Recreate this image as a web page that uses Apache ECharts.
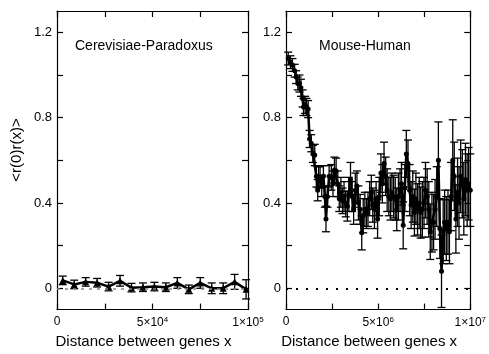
<!DOCTYPE html>
<html>
<head>
<meta charset="utf-8">
<script src="https://cdn.jsdelivr.net/npm/echarts@6/dist/echarts.min.js"></script>
<style>html,body{margin:0;padding:0;background:#fff}#c{width:489px;height:354px}</style>
</head>
<body>
<div id="c"></div>
<script>
// ---- Data ----
var leftTitle = 'Cerevisiae-Paradoxus';
var rightTitle = 'Mouse-Human';
var yAxisTitle = '<r(0)r(x)>';
var xAxisTitle = 'Distance between genes x';

var yTickLabels = [0, 0.4, 0.8, 1.2];
var yMinorTicks = [0, 0.2, 0.4, 0.6, 0.8, 1.0, 1.2];
var leftXTicks = [0, 50000, 100000];
var leftXTickLabels = ['0', '5×10^4', '1×10^5'];
var leftXMinor = [0, 25000, 50000, 75000, 100000];
var rightXTicks = [0, 5e6, 1e7];
var rightXTickLabels = ['0', '5×10^6', '1×10^7'];
var rightXMinor = [0, 2.5e6, 5e6, 7.5e6, 1e7];

// Cerevisiae-Paradoxus
var leftX = [3000, 9000, 15000, 21000, 27000, 33000, 39000, 45000, 51000, 57000, 63000, 69000, 75000, 81000, 87000, 93000, 99000];
var leftY = [0.037, 0.018, 0.03, 0.026, 0.008, 0.035, 0.003, 0.005, 0.008, 0.005, 0.025, -0.005, 0.025, 0, 0, 0.03, -0.005];
var leftErr = [0.02, 0.02, 0.02, 0.02, 0.02, 0.025, 0.02, 0.02, 0.02, 0.02, 0.025, 0.02, 0.025, 0.025, 0.025, 0.035, 0.045];

// Mouse-Human (x in units of 10^6)
var rightXM = [0.12, 0.24, 0.35, 0.47, 0.55, 0.64, 0.73, 0.81, 0.90, 0.95,
  1.04, 1.11, 1.20, 1.28, 1.37, 1.46, 1.56, 1.65, 1.72, 1.77,
  1.85, 1.94, 2.03, 2.11, 2.17, 2.25, 2.34, 2.46, 2.55, 2.63, 2.72,
  2.81, 2.89, 2.98, 3.07, 3.15, 3.24, 3.33, 3.41, 3.50, 3.59,
  3.67, 3.76, 3.85, 3.93, 4.02, 4.11, 4.19, 4.28, 4.37, 4.45,
  4.54, 4.63, 4.71, 4.80, 4.89, 4.97, 5.06, 5.15, 5.23, 5.32,
  5.41, 5.49, 5.58, 5.67, 5.75, 5.84, 5.93, 6.01, 6.10, 6.19,
  6.27, 6.36, 6.45, 6.53, 6.62, 6.71, 6.79, 6.88, 6.97, 7.05,
  7.14, 7.23, 7.31, 7.40, 7.49, 7.57, 7.66, 7.75, 7.83, 7.92,
  8.01, 8.09, 8.18, 8.27, 8.35, 8.44, 8.53, 8.61, 8.70, 8.79,
  8.87, 8.96, 9.05, 9.13, 9.22, 9.31, 9.39, 9.48, 9.57, 9.65,
  9.74, 9.83, 9.91, 10.0];
var rightY = [1.077, 1.06, 1.047, 1.02, 0.99, 0.96, 0.96, 0.94, 0.89, 0.85,
  0.86, 0.85, 0.84, 0.70, 0.68, 0.63, 0.625, 0.525, 0.46, 0.52,
  0.52, 0.48, 0.525, 0.43, 0.325, 0.43, 0.525, 0.52, 0.49, 0.555, 0.55,
  0.49, 0.42, 0.45, 0.41, 0.43, 0.395, 0.385, 0.44, 0.51, 0.43,
  0.37, 0.46, 0.48, 0.40, 0.37, 0.26, 0.34, 0.37, 0.35, 0.37,
  0.42, 0.45, 0.39, 0.37, 0.42, 0.325, 0.43, 0.54, 0.49, 0.585,
  0.525, 0.46, 0.43, 0.42, 0.45, 0.43, 0.42, 0.37, 0.43, 0.46,
  0.49, 0.295, 0.47, 0.63, 0.585, 0.46, 0.39, 0.43, 0.355, 0.42,
  0.37, 0.40, 0.355, 0.37, 0.40, 0.46, 0.43, 0.37, 0.265, 0.31,
  0.31, 0.37, 0.43, 0.60, 0.28, 0.08, 0.265, 0.31, 0.28, 0.31,
  0.265, 0.43, 0.60, 0.525, 0.325, 0.45, 0.40, 0.525, 0.49, 0.42,
  0.51, 0.46, 0.49, 0.46];
var rightErr = [0.03, 0.03, 0.03, 0.03, 0.03, 0.03, 0.04, 0.04, 0.04, 0.04,
  0.04, 0.04, 0.04, 0.04, 0.04, 0.04, 0.05, 0.05, 0.05, 0.05,
  0.05, 0.05, 0.05, 0.05, 0.06, 0.05, 0.05, 0.06, 0.06, 0.06, 0.06,
  0.06, 0.06, 0.07, 0.06, 0.07, 0.06, 0.07, 0.08, 0.08, 0.07,
  0.07, 0.08, 0.07, 0.08, 0.07, 0.08, 0.08, 0.08, 0.07, 0.08,
  0.08, 0.08, 0.08, 0.09, 0.08, 0.09, 0.09, 0.09, 0.09, 0.10,
  0.09, 0.10, 0.09, 0.10, 0.09, 0.10, 0.10, 0.10, 0.11, 0.10,
  0.10, 0.11, 0.11, 0.11, 0.11, 0.12, 0.11, 0.12, 0.11, 0.12,
  0.12, 0.12, 0.12, 0.13, 0.12, 0.13, 0.13, 0.13, 0.13, 0.14,
  0.13, 0.14, 0.14, 0.18, 0.14, 0.17, 0.15, 0.15, 0.15, 0.15,
  0.15, 0.16, 0.19, 0.16, 0.16, 0.16, 0.17, 0.17, 0.16, 0.17,
  0.17, 0.17, 0.17, 0.17];

// ---- Build ----
var FONT = 'Liberation Sans, Arial, Helvetica, sans-serif';
function zip3(xs, ys, es, scale) {
  var out = [];
  for (var i = 0; i < xs.length; i++) out.push([xs[i] * scale, ys[i], es[i]]);
  return out;
}
var leftData = zip3(leftX, leftY, leftErr, 1);
var rightData = zip3(rightXM, rightY, rightErr, 1e6);

function labelFmt(values, labels) {
  return function (v) {
    for (var i = 0; i < values.length; i++) {
      if (Math.abs(v - values[i]) < 1e-6 * Math.max(1, Math.abs(values[i]))) {
        var p = labels[i].split('^');
        return p.length > 1 ? p[0] + '{s|' + p[1] + '}' : p[0];
      }
    }
    return '';
  };
}

function errRender(params, api) {
  var x = api.value(0), y = api.value(1), e = api.value(2);
  var lo = api.coord([x, y - e]), hi = api.coord([x, y + e]);
  var w = 4;
  var st = { stroke: '#000', lineWidth: 1.3 };
  return {
    type: 'group',
    children: [
      { type: 'line', shape: { x1: lo[0], y1: lo[1], x2: hi[0], y2: hi[1] }, style: st },
      { type: 'line', shape: { x1: lo[0] - w, y1: lo[1], x2: lo[0] + w, y2: lo[1] }, style: st },
      { type: 'line', shape: { x1: hi[0] - w, y1: hi[1], x2: hi[0] + w, y2: hi[1] }, style: st }
    ]
  };
}

var grids = [
  { left: 57, width: 191, top: 11, height: 304 },
  { left: 286, width: 192, top: 11, height: 304 }
];

function xAxes(gi, max, ticks, labels, minor) {
  return [
    {
      gridIndex: gi, type: 'value', min: 0, max: max, position: 'bottom',
      axisLine: { show: true, onZero: false, lineStyle: { color: '#000', width: 1.2 } },
      axisTick: { show: true, inside: true, length: 6, customValues: minor, lineStyle: { color: '#000', width: 1.2 } },
      axisLabel: {
        show: true, customValues: ticks, formatter: labelFmt(ticks, labels), margin: 6,
        color: '#000', fontFamily: FONT, fontSize: 12,
        rich: { s: { fontSize: 8, fontFamily: FONT, color: '#000', padding: [0, 0, 7, 0] } }
      },
      splitLine: { show: false },
      name: xAxisTitle, nameLocation: 'middle', nameGap: 20,
      nameTextStyle: { color: '#000', fontFamily: FONT, fontSize: 15, padding: [0, 18, 0, 0] }
    },
    {
      gridIndex: gi, type: 'value', min: 0, max: max, position: 'top',
      axisLine: { show: true, onZero: false, lineStyle: { color: '#000', width: 1.2 } },
      axisTick: { show: true, inside: true, length: 6, customValues: minor, lineStyle: { color: '#000', width: 1.2 } },
      axisLabel: { show: false }, splitLine: { show: false }
    }
  ];
}
function yAxes(gi) {
  return [
    {
      gridIndex: gi, type: 'value', min: -0.1, max: 1.3, position: 'left',
      axisLine: { show: true, onZero: false, lineStyle: { color: '#000', width: 1.2 } },
      axisTick: { show: true, inside: true, length: 6, customValues: yMinorTicks, lineStyle: { color: '#000', width: 1.2 } },
      axisLabel: { show: true, customValues: yTickLabels, formatter: function (v) { return String(Math.round(v * 10) / 10); }, color: '#000', fontFamily: FONT, fontSize: 13, margin: 5 },
      splitLine: { show: false }
    },
    {
      gridIndex: gi, type: 'value', min: -0.1, max: 1.3, position: 'right',
      axisLine: { show: true, onZero: false, lineStyle: { color: '#000', width: 1.2 } },
      axisTick: { show: true, inside: true, length: 6, customValues: yMinorTicks, lineStyle: { color: '#000', width: 1.2 } },
      axisLabel: { show: false }, splitLine: { show: false }
    }
  ];
}

var option = {
  animation: false,
  backgroundColor: '#fff',
  grid: grids,
  xAxis: xAxes(0, 100000, leftXTicks, leftXTickLabels, leftXMinor).concat(xAxes(1, 1e7, rightXTicks, rightXTickLabels, rightXMinor)),
  yAxis: yAxes(0).concat(yAxes(1)),
  graphic: [
    { type: 'text', left: 75, top: 39, style: { text: leftTitle, fill: '#000', font: '14px ' + FONT } },
    { type: 'text', left: 319, top: 39, style: { text: rightTitle, fill: '#000', font: '14px ' + FONT } },
    { type: 'text', x: 17, y: 150, rotation: Math.PI / 2, style: { text: yAxisTitle, fill: '#000', font: '15px ' + FONT, textAlign: 'center', textVerticalAlign: 'middle' } }
  ],
  series: [
    {
      type: 'custom', xAxisIndex: 0, yAxisIndex: 0, data: leftData, encode: { x: 0, y: 1 },
      renderItem: errRender, silent: true, z: 2
    },
    {
      type: 'line', xAxisIndex: 0, yAxisIndex: 0, data: leftData.map(function (d) { return [d[0], d[1]]; }),
      symbol: 'triangle', symbolSize: 7, showSymbol: true,
      lineStyle: { color: '#000', width: 2.5 }, itemStyle: { color: '#000' }, z: 3,
      markLine: { silent: true, symbol: 'none', label: { show: false }, lineStyle: { color: '#888', type: [3, 5], width: 1.5 }, data: [{ yAxis: 0 }] }
    },
    {
      type: 'custom', xAxisIndex: 2, yAxisIndex: 2, data: rightData, encode: { x: 0, y: 1 },
      renderItem: errRender, silent: true, z: 2
    },
    {
      type: 'line', xAxisIndex: 2, yAxisIndex: 2, data: rightData.map(function (d) { return [d[0], d[1]]; }),
      symbol: 'circle', symbolSize: 5, showSymbol: true,
      lineStyle: { color: '#000', width: 2.5 }, itemStyle: { color: '#000' }, z: 3,
      markLine: { silent: true, symbol: 'none', label: { show: false }, lineStyle: { color: '#000', type: [2, 8], width: 2 }, data: [{ yAxis: 0 }] }
    }
  ]
};
var chart = echarts.init(document.getElementById('c'), null, { renderer: 'canvas' });
chart.setOption(option);
</script>
</body>
</html>
